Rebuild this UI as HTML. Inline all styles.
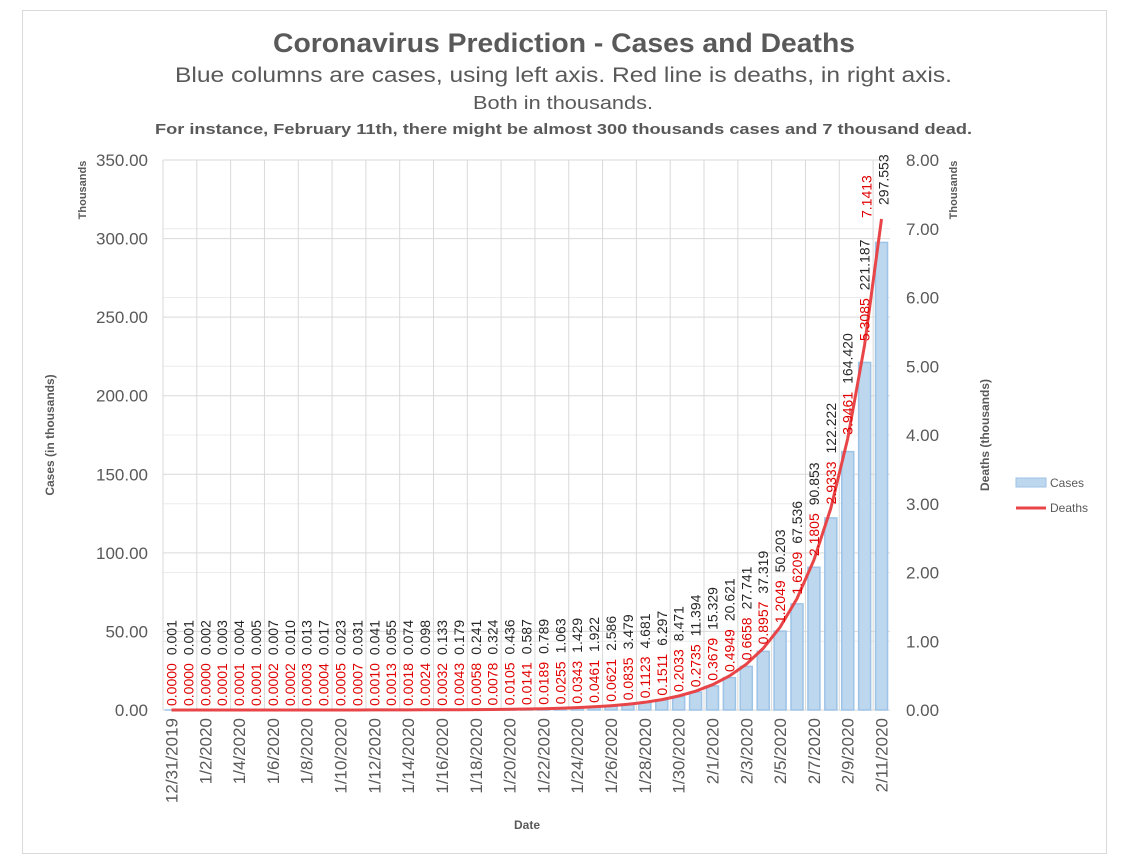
<!DOCTYPE html>
<html><head><meta charset="utf-8">
<style>
body{margin:0;background:#fff;font-family:"Liberation Sans",sans-serif;}
svg{display:block}
</style></head><body>
<svg id="chart" width="1129" height="865" xmlns="http://www.w3.org/2000/svg">
<rect x="22.5" y="10.5" width="1084" height="843" fill="#fff" stroke="#d9d9d9"/>
<text x="273" y="52" textLength="582" lengthAdjust="spacingAndGlyphs" font-size="27" font-weight="bold" fill="#595959">Coronavirus Prediction - Cases and Deaths</text>
<text x="175" y="82" textLength="777" lengthAdjust="spacingAndGlyphs" font-size="21" fill="#595959">Blue columns are cases, using left axis. Red line is deaths, in right axis.</text>
<text x="473" y="109" textLength="180" lengthAdjust="spacingAndGlyphs" font-size="18" fill="#595959">Both in thousands.</text>
<text x="155" y="134" textLength="817" lengthAdjust="spacingAndGlyphs" font-size="15" font-weight="bold" fill="#595959">For instance, February 11th, there might be almost 300 thousands cases and 7 thousand dead.</text>
<g id="grid"></g><g id="bars"></g><g id="line"></g><g id="labels"></g><g id="axes"></g>
<text transform="translate(86,190) rotate(-90)" text-anchor="middle" font-size="11" font-weight="bold" fill="#595959">Thousands</text>
<text transform="translate(54,435) rotate(-90)" text-anchor="middle" font-size="12" font-weight="bold" fill="#595959">Cases  (in thousands)</text>
<text transform="translate(957,190) rotate(-90)" text-anchor="middle" font-size="11" font-weight="bold" fill="#595959">Thousands</text>
<text transform="translate(989,435) rotate(-90)" text-anchor="middle" font-size="12" font-weight="bold" fill="#595959">Deaths (thousands)</text>
<text x="527" y="829" text-anchor="middle" font-size="12" font-weight="bold" fill="#595959">Date</text>
<g>
<g><rect x="1016" y="478" width="30" height="9" fill="#bdd7ee" stroke="#9dc3e6"/><text x="1050" y="487" font-size="12" fill="#595959">Cases</text></g>
<g><line x1="1016" y1="508" x2="1046" y2="508" stroke="#e84548" stroke-width="3"/><text x="1050" y="512" font-size="12" fill="#595959">Deaths</text></g>
</g>
</svg>
<script>
const dates=["12/31/2019","1/1/2020","1/2/2020","1/3/2020","1/4/2020","1/5/2020","1/6/2020","1/7/2020","1/8/2020","1/9/2020","1/10/2020","1/11/2020","1/12/2020","1/13/2020","1/14/2020","1/15/2020","1/16/2020","1/17/2020","1/18/2020","1/19/2020","1/20/2020","1/21/2020","1/22/2020","1/23/2020","1/24/2020","1/25/2020","1/26/2020","1/27/2020","1/28/2020","1/29/2020","1/30/2020","1/31/2020","2/1/2020","2/2/2020","2/3/2020","2/4/2020","2/5/2020","2/6/2020","2/7/2020","2/8/2020","2/9/2020","2/10/2020","2/11/2020"];
const cases=[0.001,0.001,0.002,0.003,0.004,0.005,0.007,0.010,0.013,0.017,0.023,0.031,0.041,0.055,0.074,0.098,0.133,0.179,0.241,0.324,0.436,0.587,0.789,1.063,1.429,1.922,2.586,3.479,4.681,6.297,8.471,11.394,15.329,20.621,27.741,37.319,50.203,67.536,90.853,122.222,164.420,221.187,297.553];
const deaths=[0.0000,0.0000,0.0000,0.0001,0.0001,0.0001,0.0002,0.0002,0.0003,0.0004,0.0005,0.0007,0.0010,0.0013,0.0018,0.0024,0.0032,0.0043,0.0058,0.0078,0.0105,0.0141,0.0189,0.0255,0.0343,0.0461,0.0621,0.0835,0.1123,0.1511,0.2033,0.2735,0.3679,0.4949,0.6658,0.8957,1.2049,1.6209,2.1805,2.9333,3.9461,5.3085,7.1413];
const leftTicks=[0,50,100,150,200,250,300,350];
const rightTicks=[0,1,2,3,4,5,6,7,8];
const NS="http://www.w3.org/2000/svg";
const L=163,R=890,T=160,B=710;
const band=(R-L)/dates.length;
const xc=i=>L+band*(i+0.5);
const yL=v=>B-(v/350)*(B-T);
const yR=v=>B-(v/8)*(B-T);
function mk(tag,attrs,parent,txt){const e=document.createElementNS(NS,tag);for(const k in attrs)e.setAttribute(k,attrs[k]);if(txt!==undefined)e.textContent=txt;document.getElementById(parent).appendChild(e);return e;}
rightTicks.forEach(t=>{const e=mk('line',{x1:L,x2:R,y1:yR(t),y2:yR(t),stroke:'#ececec'},'grid');

});
leftTicks.forEach(t=>{const e=mk('line',{x1:L,x2:R,y1:yL(t),y2:yL(t),stroke:'#d9d9d9'},'grid');

});
for(let i=0;i<=dates.length;i+=2){const x=L+band*i;const e=mk('line',{x1:x,x2:x,y1:T,y2:B,stroke:'#d9d9d9'},'grid');

}
leftTicks.forEach(t=>{const e=mk('text',{x:148,y:yL(t)+6,'text-anchor':'end','font-size':17,fill:'#595959'},'axes',t.toFixed(2));

});
rightTicks.forEach(t=>{const e=mk('text',{x:906,y:yR(t)+6,'font-size':17,fill:'#595959'},'axes',t.toFixed(2));

});
for(let i=0;i<dates.length;i+=2){const e=mk('text',{transform:`translate(${xc(i)+6},${B+8}) rotate(-90)`,'text-anchor':'end','font-size':17,fill:'#595959'},'axes',dates[i]);

}
cases.forEach((v,i)=>{const y=yL(v);const e=mk('rect',{x:xc(i)-6,y:y,width:12,height:B-y,fill:'#bdd7ee',stroke:'#9dc3e6','stroke-width':1.5},'bars');

});
let d=deaths.map((v,i)=>(i?'L':'M')+xc(i).toFixed(1)+','+yR(v).toFixed(1)).join(' ');
const ln=mk('path',{d:d,fill:'none',stroke:'#e84548','stroke-width':3},'line');


const n=dates.length;
deaths.forEach((v,i)=>{
  let rs=Math.min(yR(v)-4,707);
  let xs=xc(i)+5;
  if(i===n-1){rs=218;xs=xc(i)-10;}
  const rt=v.toFixed(4);
  const e=mk('text',{transform:`translate(${xs},${rs}) rotate(-90)`,'font-size':14,fill:'#e00000'},'labels',rt);
  
  
  const rl=e.getComputedTextLength ? e.getComputedTextLength() : 43;
  let bs=Math.min(yL(cases[i])-4,rs-rl-8);
  let xb=xc(i)+5;
  if(i===n-1){bs=205;xb=xc(i)+7;}
  const bt=cases[i].toFixed(3);
  const f=mk('text',{transform:`translate(${xb},${bs}) rotate(-90)`,'font-size':14,fill:'#262626'},'labels',bt);
  
  
});
</script>
</body></html>
